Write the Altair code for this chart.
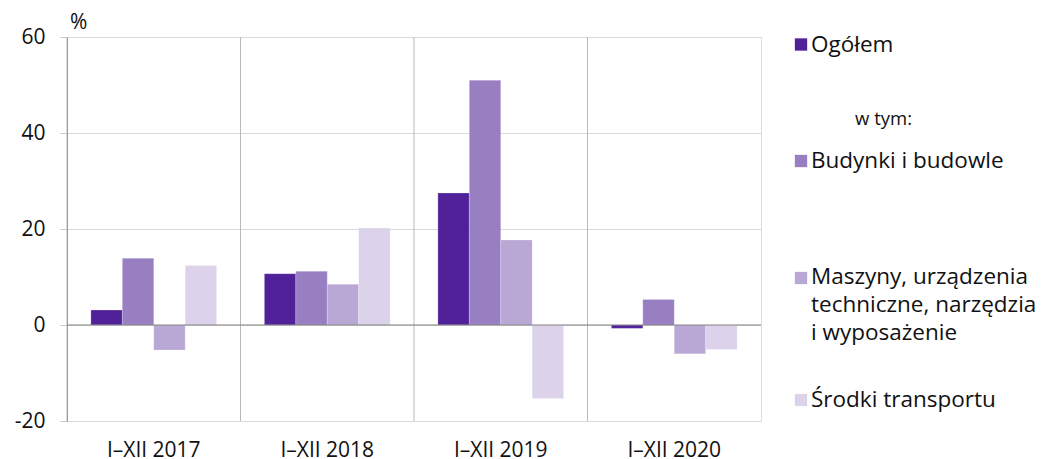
import altair as alt
import pandas as pd

years = ["I–XII 2017", "I–XII 2018", "I–XII 2019", "I–XII 2020"]
series = ["Ogółem", "Budynki i budowle", "Maszyny, urządzenia techniczne, narzędzia i wyposażenie", "Środki transportu"]
ogolem = [3.1, 10.7, 27.5, -0.7]
budynki = [13.9, 11.2, 51.0, 5.3]
maszyny = [-5.2, 8.5, 17.7, -6.0]
srodki = [12.4, 20.2, -15.3, -5.1]
colors = ["#51219a", "#977fc1", "#b9a8d6", "#dcd3eb"]

rows = []
for s, vals in zip(series, [ogolem, budynki, maszyny, srodki]):
    for y, v in zip(years, vals):
        rows.append({"year": y, "series": s, "value": v})
df = pd.DataFrame(rows)

FONT = "Open Sans"
W, H = 694, 384

xscale = alt.Scale(domain=years, paddingInner=0, paddingOuter=0)
yscale = alt.Scale(domain=[-20, 60], nice=False)
xaxis = alt.Axis(title=None, labelAngle=0, ticks=False, domain=False, grid=False,
                 bandPosition=0.5,
                 labelFontSize=21, labelColor="#111111", labelPadding=18, labelFont=FONT)

bars = alt.Chart(df).mark_bar(stroke="#ffffff", strokeOpacity=0.35, strokeWidth=0.6).encode(
    x=alt.X("year:N", sort=years, scale=xscale, axis=xaxis),
    xOffset=alt.XOffset("series:N", sort=series,
                        scale=alt.Scale(domain=series, paddingInner=0, paddingOuter=0.76)),
    y=alt.Y("value:Q", scale=yscale,
            axis=alt.Axis(title=None, values=[-20, 0, 20, 40, 60], grid=True, gridColor="#d9d9d9",
                          domainColor="#808080", tickColor="#c8c8c8", tickSize=7,
                          labelExpr="datum.value + ''",
                          labelFontSize=21, labelColor="#111111", labelPadding=15, labelFont=FONT)),
    color=alt.Color("series:N", scale=alt.Scale(domain=series, range=colors), legend=None),
)

vlines = alt.Chart(pd.DataFrame({"year": years})).mark_rule(color="#b8b8b8", strokeWidth=1).encode(
    x=alt.X("year:N", sort=years, scale=xscale, bandPosition=0, axis=xaxis)
)

zero = alt.Chart(pd.DataFrame({"v": [0]})).mark_rule(color="#808080", strokeWidth=1).encode(
    y=alt.Y("v:Q", scale=yscale)
)

pct = alt.Chart(pd.DataFrame({"t": ["%"]})).mark_text(
    font=FONT, fontSize=21, align="left", baseline="alphabetic", color="#111111"
).encode(x=alt.value(3), y=alt.value(-8), text="t:N")

# Custom legend
sq_x = 734
sq_y = [7.5, 124, 241, 363]
leg_sq = alt.Chart(pd.DataFrame({"series": series, "ypos": sq_y})).mark_square(size=152, opacity=1).encode(
    x=alt.value(sq_x), y=alt.Y("ypos:Q", scale=None),
    color=alt.Color("series:N", scale=alt.Scale(domain=series, range=colors), legend=None),
)
leg_lines = ["Ogółem", "Budynki i budowle", "Maszyny, urządzenia", "techniczne, narzędzia", "i wyposażenie", "Środki transportu"]
leg_base = [15, 131, 247, 275, 303, 369.5]
leg_txt = alt.Chart(pd.DataFrame({"t": leg_lines, "ypos": leg_base})).mark_text(
    font=FONT, fontSize=22.5, align="left", baseline="alphabetic", color="#111111"
).encode(x=alt.value(744), y=alt.Y("ypos:Q", scale=None), text="t:N")
wtym = alt.Chart(pd.DataFrame({"t": ["w tym:"]})).mark_text(
    font=FONT, fontSize=18.5, align="left", baseline="alphabetic", color="#111111"
).encode(x=alt.value(788), y=alt.value(88), text="t:N")

chart = alt.layer(bars, vlines, zero, pct, leg_sq, leg_txt, wtym).properties(
    width=W, height=H,
    autosize=alt.AutoSizeParams(type="none"),
    padding={"left": 59, "top": 29, "right": 280, "bottom": 46},
).configure_view(stroke="#b8b8b8").configure(font=FONT)

chart.save("out.html", embed_options={"renderer": "svg", "actions": False})
